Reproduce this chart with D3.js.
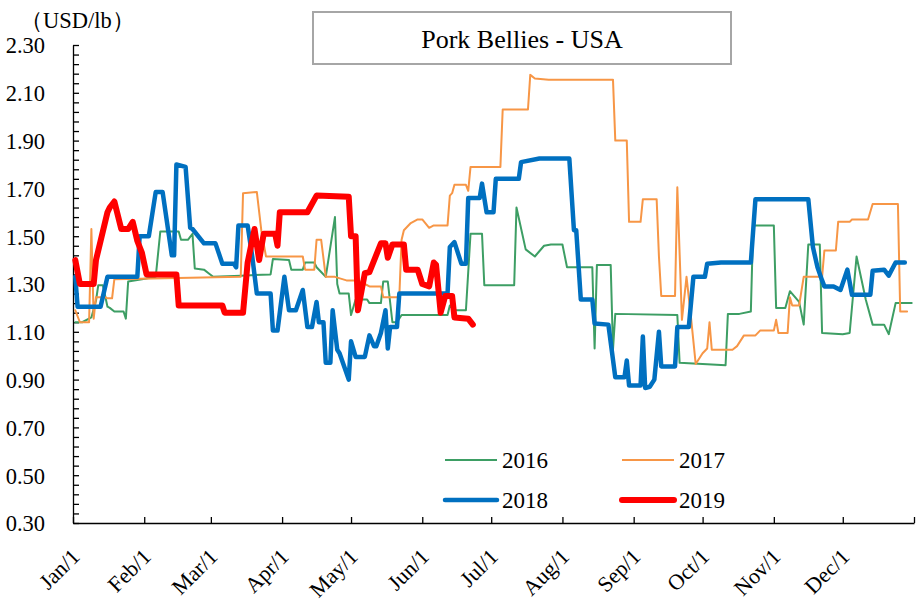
<!DOCTYPE html>
<html>
<head>
<meta charset="utf-8">
<script src="https://cdn.jsdelivr.net/npm/d3@7"></script>
<style>
  body { margin: 0; background: #fff; }
  svg text { font-family: "Liberation Serif", "Times New Roman", serif; fill: #000; }
</style>
</head>
<body>
<svg id="chart" width="917" height="602"></svg>
<script>
// Pork Bellies - USA, USD/lb, by day of year (days counted from Jan/1)
const monthLabels = ['Jan/1', 'Feb/1', 'Mar/1', 'Apr/1', 'May/1', 'Jun/1',
    'Jul/1', 'Aug/1', 'Sep/1', 'Oct/1', 'Nov/1', 'Dec/1'];
const yLabelValues = [0.30, 0.50, 0.70, 0.90, 1.10, 1.30, 1.50, 1.70, 1.90, 2.10, 2.30];
const seriesNames = ['2016', '2017', '2018', '2019'];

const days2016 = [1, 4, 8, 10, 11, 13, 15, 16, 18, 22, 23, 24, 30, 36, 38, 46, 47, 50, 52, 53,
    57, 59, 61, 73, 86, 87, 94, 95, 100, 101, 105, 106, 108, 110, 114, 115, 116, 120, 121, 123,
    128, 129, 134, 135, 137, 139, 141, 143, 163, 164, 166, 171, 173, 178, 179, 192, 193, 197, 201, 205,
    208, 213, 215, 226, 227, 228, 234, 235, 236, 263, 264, 284, 285, 290, 295, 296, 305, 306, 310, 312,
    316, 318, 320, 325, 326, 335, 338, 341, 345, 348, 353, 355, 358, 365];
const vals2016 = [1.14, 1.14, 1.16, 1.23, 1.295, 1.295, 1.205, 1.20, 1.185, 1.185, 1.155, 1.31, 1.32, 1.33, 1.52, 1.52, 1.485, 1.485, 1.51, 1.365,
    1.36, 1.345, 1.33, 1.335, 1.34, 1.405, 1.40, 1.36, 1.36, 1.39, 1.39, 1.37, 1.35, 1.33, 1.58, 1.30, 1.26, 1.26, 1.17, 1.235,
    1.235, 1.22, 1.22, 1.31, 1.31, 1.14, 1.14, 1.17, 1.17, 1.21, 1.19, 1.19, 1.51, 1.51, 1.295, 1.295, 1.62, 1.445, 1.415, 1.46,
    1.465, 1.465, 1.37, 1.37, 1.03, 1.38, 1.38, 1.025, 1.175, 1.17, 0.97, 0.96, 1.175, 1.175, 1.185, 1.545, 1.545, 1.20, 1.20, 1.27,
    1.225, 1.13, 1.465, 1.465, 1.095, 1.09, 1.095, 1.415, 1.235, 1.13, 1.13, 1.09, 1.22, 1.22];

const days2017 = [1, 3, 7, 8, 9, 10, 14, 15, 17, 18, 73, 74, 80, 82, 84, 100, 101, 105, 106, 108,
    110, 114, 119, 124, 127, 129, 134, 135, 142, 143, 144, 147, 150, 152, 155, 157, 163, 164, 165, 166,
    171, 172, 173, 186, 187, 198, 199, 201, 207, 235, 236, 241, 242, 247, 248, 254, 255, 256, 262, 263,
    265, 267, 269, 271, 274, 276, 277, 278, 287, 289, 292, 297, 299, 305, 306, 307, 311, 312, 313, 316,
    318, 326, 327, 332, 333, 338, 339, 346, 348, 359, 360, 363];
const vals2017 = [1.19, 1.14, 1.14, 1.53, 1.155, 1.245, 1.245, 1.24, 1.24, 1.32, 1.33, 1.68, 1.685, 1.52, 1.415, 1.415, 1.36, 1.36, 1.485, 1.485,
    1.33, 1.33, 1.315, 1.315, 1.30, 1.29, 1.29, 1.245, 1.245, 1.485, 1.525, 1.555, 1.57, 1.57, 1.535, 1.545, 1.545, 1.67, 1.68, 1.715,
    1.715, 1.69, 1.79, 1.79, 2.03, 2.03, 2.175, 2.16, 2.155, 2.155, 1.90, 1.90, 1.56, 1.56, 1.655, 1.655, 1.415, 1.25, 1.25, 1.705,
    1.15, 1.33, 1.155, 0.965, 1.01, 1.03, 1.14, 1.025, 1.025, 1.04, 1.085, 1.085, 1.105, 1.105, 1.15, 1.095, 1.095, 1.245, 1.21, 1.21,
    1.33, 1.33, 1.44, 1.44, 1.56, 1.56, 1.57, 1.57, 1.635, 1.635, 1.185, 1.185];

const days2018 = [1, 2, 12, 15, 28, 29, 33, 36, 39, 43, 44, 45, 49, 51, 52, 57, 62, 65, 70, 71,
    72, 76, 78, 80, 86, 87, 89, 92, 94, 97, 100, 102, 104, 106, 107, 109, 110, 112, 113, 115,
    116, 120, 121, 123, 127, 129, 131, 132, 134, 136, 137, 138, 141, 142, 163, 164, 166, 169, 171, 172,
    177, 178, 180, 183, 184, 194, 195, 203, 216, 218, 219, 221, 226, 227, 233, 236, 240, 241, 242, 247,
    248, 249, 251, 253, 255, 256, 262, 263, 268, 270, 275, 276, 282, 295, 297, 320, 322, 324, 326, 327,
    331, 334, 337, 339, 347, 348, 353, 355, 358, 362];
const vals2018 = [1.33, 1.205, 1.205, 1.33, 1.33, 1.50, 1.50, 1.685, 1.685, 1.42, 1.42, 1.80, 1.79, 1.535, 1.53, 1.47, 1.47, 1.385, 1.385, 1.37,
    1.545, 1.545, 1.415, 1.26, 1.26, 1.105, 1.105, 1.33, 1.19, 1.19, 1.275, 1.12, 1.12, 1.225, 1.14, 1.14, 0.97, 0.97, 1.19, 1.025,
    1.01, 0.90, 1.06, 0.995, 0.995, 1.085, 1.04, 1.04, 1.095, 1.19, 1.03, 1.12, 1.12, 1.26, 1.26, 1.455, 1.475, 1.385, 1.385, 1.66,
    1.66, 1.72, 1.60, 1.60, 1.74, 1.74, 1.81, 1.825, 1.825, 1.525, 1.525, 1.235, 1.235, 1.135, 1.13, 0.91, 0.91, 0.98, 0.875, 0.875,
    1.08, 0.865, 0.87, 0.90, 1.10, 0.955, 0.955, 1.12, 1.12, 1.33, 1.33, 1.385, 1.39, 1.39, 1.655, 1.655, 1.455, 1.37, 1.315, 1.29,
    1.29, 1.275, 1.36, 1.255, 1.255, 1.355, 1.36, 1.335, 1.39, 1.39];

const days2019 = [1, 3, 9, 10, 15, 16, 18, 21, 24, 26, 28, 30, 32, 45, 46, 65, 66, 74, 76, 79,
    81, 83, 88, 89, 90, 102, 106, 120, 121, 123, 124, 127, 129, 134, 136, 137, 139, 144, 145, 150,
    152, 155, 157, 158, 160, 162, 165, 166, 172, 174];
const vals2019 = [1.40, 1.30, 1.30, 1.40, 1.60, 1.62, 1.645, 1.53, 1.53, 1.56, 1.48, 1.43, 1.34, 1.34, 1.21, 1.21, 1.18, 1.18, 1.39, 1.53,
    1.40, 1.51, 1.51, 1.46, 1.60, 1.60, 1.67, 1.665, 1.50, 1.50, 1.19, 1.345, 1.35, 1.47, 1.47, 1.41, 1.465, 1.465, 1.36, 1.36,
    1.30, 1.29, 1.39, 1.38, 1.18, 1.25, 1.25, 1.16, 1.155, 1.13];

const allDays = [days2016, days2017, days2018, days2019];
const allVals = [vals2016, vals2017, vals2018, vals2019];
const colors = ['#3d9e64', '#f79646', '#0070c0', '#ff0000'];
const widths = [2, 2, 4.5, 6];

const width = 917;
const height = 602;
const margin = { top: 45, right: 3, bottom: 79, left: 73 };

const svg = d3.select('#chart');

const startDate = new Date(2016, 0, 1);
const endDate = new Date(2017, 0, 1);

const x = d3.scaleTime()
    .domain([startDate, endDate])
    .range([margin.left, width - margin.right]);

const y = d3.scaleLinear()
    .domain([0.30, 2.30])
    .range([height - margin.bottom, margin.top]);

const dayToDate = d => d3.timeDay.offset(startDate, d);

// Y axis: ticks every 0.04 pointing inward, labels every 0.20
const yTicks = d3.range(51).map(i => +(0.30 + i * 0.04).toFixed(2));
const yAxis = d3.axisLeft(y)
    .tickValues(yTicks)
    .tickSize(-6)
    .tickSizeOuter(0)
    .tickPadding(28)
    .tickFormat(d => yLabelValues.some(v => Math.abs(v - d) < 1e-6) ? d.toFixed(2) : '');

const yG = svg.append('g')
    .attr('transform', `translate(${margin.left},0)`)
    .call(yAxis);
yG.selectAll('text')
    .attr('font-size', '22.5px')
    .attr('dy', '0.35em');

// X axis: month ticks pointing inward, rotated labels
const monthTicks = d3.timeMonth.range(startDate, endDate).concat([endDate]);
const xAxis = d3.axisBottom(x)
    .tickValues(monthTicks)
    .tickSize(-6)
    .tickSizeOuter(0)
    .tickFormat('');

svg.append('g')
    .attr('transform', `translate(0,${height - margin.bottom})`)
    .call(xAxis);

svg.selectAll('.domain, .tick line')
    .attr('stroke', '#000')
    .attr('stroke-width', 1.3);

svg.append('g')
    .selectAll('text')
    .data(monthLabels)
    .join('text')
    .attr('font-size', '22px')
    .attr('text-anchor', 'end')
    .attr('transform', (d, i) => `translate(${x(monthTicks[i]) + 8},${height - margin.bottom + 35}) rotate(-45)`)
    .text(d => d);

// Unit label
svg.append('text')
    .attr('x', 20)
    .attr('y', 28)
    .attr('font-size', '22.5px')
    .text('（USD/lb）');

// Title box
svg.append('rect')
    .attr('x', 313)
    .attr('y', 12)
    .attr('width', 418)
    .attr('height', 52)
    .attr('fill', '#fff')
    .attr('stroke', '#a6a6a6')
    .attr('stroke-width', 2);

svg.append('text')
    .attr('x', 522)
    .attr('y', 48)
    .attr('text-anchor', 'middle')
    .attr('font-size', '26px')
    .text('Pork Bellies - USA');

// Lines
const line = d3.line()
    .x(d => x(dayToDate(d[0])))
    .y(d => y(d[1]));

seriesNames.forEach((name, i) => {
    const pts = allDays[i].map((d, j) => [d, allVals[i][j]]);
    svg.append('path')
        .datum(pts)
        .attr('fill', 'none')
        .attr('stroke', colors[i])
        .attr('stroke-width', widths[i])
        .attr('stroke-linejoin', 'round')
        .attr('stroke-linecap', 'round')
        .attr('d', line);
});

// Legend
const legendPos = [[445, 460], [622, 460], [445, 500], [622, 500]];
const legend = svg.append('g');
seriesNames.forEach((name, i) => {
    const [lx, ly] = legendPos[i];
    legend.append('line')
        .attr('x1', lx)
        .attr('x2', lx + 52)
        .attr('y1', ly)
        .attr('y2', ly)
        .attr('stroke', colors[i])
        .attr('stroke-width', widths[i])
        .attr('stroke-linecap', i > 1 ? 'round' : 'butt');
    legend.append('text')
        .attr('x', lx + 57)
        .attr('y', ly)
        .attr('dy', '0.35em')
        .attr('font-size', '23px')
        .text(name);
});
</script>
</body>
</html>
